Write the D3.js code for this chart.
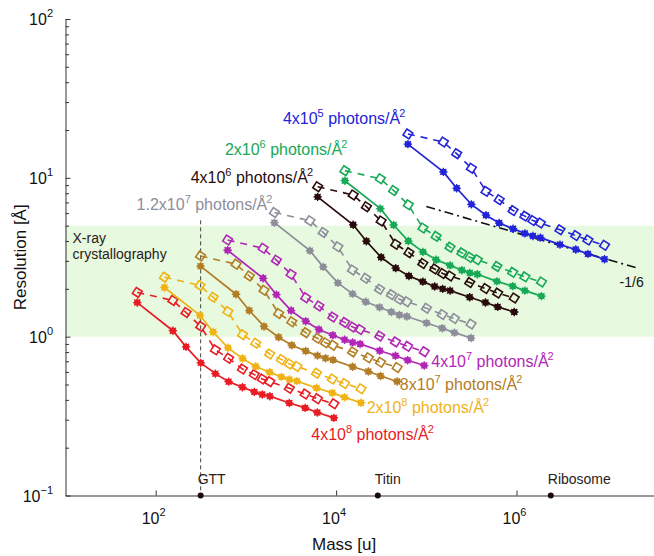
<!DOCTYPE html>
<html><head><meta charset="utf-8">
<script src="https://cdn.jsdelivr.net/npm/d3@7"></script>
<style>
body{margin:0;background:#fff}
svg{display:block;font-family:"Liberation Sans",Arial,Helvetica,sans-serif}
</style>
</head><body>
<svg id="c" width="654" height="556"></svg>
<script>
// ---------------- data ----------------
const fluxMantissa = ["4","2","4","1.2","4","8","2","4"];
const fluxExponent = ["5","6","6","7","7","7","8","8"];
const seriesColors = ["#2323d8","#17a957","#2a0b0b","#8d8d9b","#b226b6","#b27d25","#f0b315","#e81c24"];

const massBlue    = [62500,154800,217200,316100,459100,642500,916300,1239000,1520000,1840000,3033000,4538000,6193000,9463000];
const solidBlue   = [16.3,10.9,8.59,6.81,5.82,5.19,4.78,4.47,4.30,4.20,3.80,3.54,3.32,3.07];
const diamondBlue = [18.9,16.8,14.2,11.5,8.22,7.28,6.22,5.74,5.38,5.19,4.71,4.33,4.06,3.76];

const massGreen    = [12500,30960,43440,63230,91810,128500,183300,247800,304000,368000,606600,907600,1238000,1893000];
const solidGreen   = [9.59,6.40,5.05,4.00,3.42,3.05,2.81,2.62,2.52,2.47,2.23,2.08,1.95,1.80];
const diamondGreen = [11.1,9.86,8.32,6.76,4.83,4.28,3.66,3.37,3.16,3.05,2.77,2.54,2.38,2.21];

const massBlack    = [6240,15460,21680,31560,45830,64150,91480,123700,151800,183700,302800,453100,618300,944700];
const solidBlack   = [7.59,5.06,3.99,3.16,2.70,2.41,2.22,2.07,2.00,1.95,1.77,1.64,1.54,1.43];
const diamondBlack = [8.79,7.80,6.58,5.35,3.82,3.38,2.89,2.67,2.50,2.41,2.19,2.01,1.88,1.75];

const massGray    = [2070,5127,7193,10470,15200,21280,30350,41030,50340,60940,100500,150300,205100,313400];
const solidGray   = [5.22,3.48,2.75,2.18,1.86,1.66,1.53,1.43,1.37,1.34,1.22,1.13,1.06,0.98];
const diamondGray = [6.05,5.37,4.53,3.68,2.63,2.33,1.99,1.84,1.72,1.66,1.51,1.38,1.30,1.20];

const massMagenta    = [627,1553,2179,3171,4605,6446,9192,12430,15250,18460,30430,45530,62120,94930];
const solidMagenta   = [3.50,2.33,1.84,1.46,1.25,1.11,1.02,0.957,0.920,0.900,0.815,0.759,0.711,0.658];
const diamondMagenta = [4.06,3.60,3.03,2.47,1.76,1.56,1.33,1.23,1.15,1.11,1.01,0.927,0.869,0.805];

const massBrown    = [314,778,1091,1588,2306,3228,4603,6223,7636,9244,15240,22800,31110,47540];
const solidBrown   = [2.78,1.85,1.46,1.16,0.991,0.883,0.813,0.760,0.731,0.714,0.647,0.603,0.565,0.522];
const diamondBrown = [3.22,2.86,2.41,1.96,1.40,1.24,1.06,0.977,0.916,0.883,0.802,0.736,0.690,0.640];

const massOrange    = [125,310,434,632,918,1285,1833,2478,3040,3680,6070,9080,12400,18900];
const solidOrange   = [2.04,1.36,1.07,0.851,0.728,0.649,0.597,0.558,0.537,0.525,0.475,0.443,0.415,0.384];
const diamondOrange = [2.37,2.10,1.77,1.44,1.03,0.910,0.778,0.718,0.673,0.649,0.589,0.541,0.507,0.470];

const massRed    = [62.5,155,217,316,459,643,916,1240,1520,1840,3030,4540,6190,9460];
const solidRed   = [1.64,1.09,0.863,0.684,0.585,0.521,0.480,0.449,0.432,0.422,0.382,0.356,0.333,0.308];
const diamondRed = [1.90,1.69,1.42,1.16,0.826,0.731,0.625,0.577,0.541,0.521,0.473,0.435,0.407,0.378];

// label anchors (mass, resolution) for each flux label
const labelMass = [2570,585,244,61.4,113500,50900,21800,5310];
const labelRes  = [21.8,13.9,9.25,6.28,0.648,0.463,0.330,0.224];

// slope -1/6 guide line
const slopeMass = [1.0e5, 2.2e7];
const slopeRes  = [6.6, 2.7];

// reference molecules
const molNames = ["GTT","Titin","Ribosome"];
const molMass  = [315, 29000, 2.4e6];
const gttTopRes = 5.4;

// X-ray band
const bandRes = [1, 5];

// ticks
const xTickValues = [1e2, 1e4, 1e6];
const xTickExp = ["2","4","6"];
const yTickValues = [0.1, 1, 10, 100];
const yTickExp = ["\u22121","0","1","2"];

// ---------------- chart ----------------
const massArr = [massBlue,massGreen,massBlack,massGray,massMagenta,massBrown,massOrange,massRed];
const solidArr = [solidBlue,solidGreen,solidBlack,solidGray,solidMagenta,solidBrown,solidOrange,solidRed];
const diamArr = [diamondBlue,diamondGreen,diamondBlack,diamondGray,diamondMagenta,diamondBrown,diamondOrange,diamondRed];

const svg = d3.select("#c");
const W = 654, H = 556;
const x = d3.scaleLog().domain([10, 1e8]).range([65.5, 65.5 + 7*90.2]);
const y = d3.scaleLog().domain([0.1, 100]).range([495.5, 19]);

svg.append("defs").append("clipPath").attr("id","clip")
  .append("rect").attr("x",65.5).attr("y",0).attr("width",W-65.5).attr("height",496);

// band
svg.append("rect")
  .attr("x", x(10)).attr("y", y(bandRes[1]))
  .attr("width", W - x(10)).attr("height", y(bandRes[0]) - y(bandRes[1]))
  .attr("fill", "#e7f9df");

svg.append("text").attr("x", 72.5).attr("y", 243).attr("font-size", 14).attr("fill","#2a1a1a").text("X-ray");
svg.append("text").attr("x", 72.5).attr("y", 258.5).attr("font-size", 14).attr("fill","#2a1a1a").text("crystallography");

// GTT vertical dashed line
svg.append("line")
  .attr("x1", x(molMass[0])).attr("x2", x(molMass[0]))
  .attr("y1", y(gttTopRes)).attr("y2", y(0.1))
  .attr("stroke", "#444").attr("stroke-width", 1).attr("stroke-dasharray", "4,3");

const g = svg.append("g").attr("clip-path","url(#clip)");
const line = d3.line().x(d => x(d[0])).y(d => y(d[1]));

// slope guide
g.append("path")
  .attr("d", line(slopeMass.map((m,i)=>[m, slopeRes[i]])))
  .attr("fill","none").attr("stroke","#111").attr("stroke-width",1.6)
  .attr("stroke-dasharray","9,4,2,4");

const diamondPath = "M0,-5L5,0L0,5L-5,0Z";
const starPath = "M-4.2,0L4.2,0M0,-4.2L0,4.2M-3,-3L3,3M-3,3L3,-3";

// draw series (red first, blue last on top)
for (let k = massArr.length - 1; k >= 0; k--) {
  const col = seriesColors[k];
  const solid = massArr[k].map((m,i)=>[m, solidArr[k][i]]);
  const diam = massArr[k].map((m,i)=>[m, diamArr[k][i]]);
  const sg = g.append("g");
  sg.append("path").attr("d", line(diam)).attr("fill","none")
    .attr("stroke", col).attr("stroke-width", 1.6).attr("stroke-dasharray","7,6");
  sg.selectAll(".dm").data(diam).join("path")
    .attr("transform", d => `translate(${x(d[0])},${y(d[1])}) rotate(-12)`)
    .attr("d", diamondPath).attr("fill","none").attr("stroke", col).attr("stroke-width", 1.6);
  sg.append("path").attr("d", line(solid)).attr("fill","none")
    .attr("stroke", col).attr("stroke-width", 1.7);
  sg.selectAll(".sd").data(solid).join("circle")
    .attr("cx", d => x(d[0])).attr("cy", d => y(d[1])).attr("r", 3.2).attr("fill", col);
  sg.selectAll(".st").data(solid).join("path")
    .attr("transform", d => `translate(${x(d[0])},${y(d[1])})`)
    .attr("d", starPath).attr("stroke", col).attr("stroke-width", 1.3).attr("fill","none");
}

// slope label
svg.append("text").attr("x", x(slopeMass[1]) - 18).attr("y", y(slopeRes[1]) + 19)
  .attr("font-size", 14).attr("fill","#111").text("-1/6");

// flux labels
for (let k = 0; k < fluxMantissa.length; k++) {
  const t = svg.append("text").attr("x", x(labelMass[k])).attr("y", y(labelRes[k]))
    .attr("font-size", 16).attr("fill", seriesColors[k]);
  t.append("tspan").text(fluxMantissa[k] + "x10");
  t.append("tspan").attr("dy", -7).attr("font-size", 11).text(fluxExponent[k]);
  t.append("tspan").attr("dy", 7).text(" photons/\u00C5");
  t.append("tspan").attr("dy", -7).attr("font-size", 11).attr("dx", -1).text("2");
}

// axes
const minorY = [];
for (let e = -1; e < 2; e++) for (let m = 2; m <= 9; m++) minorY.push(m * Math.pow(10, e));

const yAxis = svg.append("g").attr("transform", `translate(${x(10)},0)`)
  .call(d3.axisLeft(y).tickValues(yTickValues).tickSizeInner(-5).tickSizeOuter(0).tickFormat(""));
svg.append("g").attr("transform", `translate(${x(10)},0)`)
  .call(d3.axisLeft(y).tickValues(minorY).tickSizeInner(-3.5).tickSizeOuter(0).tickFormat(""))
  .select(".domain").remove();

const xAxis = svg.append("g").attr("transform", `translate(0,${y(0.1)})`)
  .call(d3.axisBottom(x).tickValues(xTickValues).tickSizeInner(-5).tickSizeOuter(0).tickFormat(""));

svg.selectAll(".domain").attr("stroke","#333").attr("stroke-width",1);
svg.selectAll(".tick line").attr("stroke","#333").attr("stroke-width",1);

// y tick labels
yTickValues.forEach((v,i) => {
  const t = svg.append("text").attr("x", 53).attr("y", y(v) + 6).attr("text-anchor","end")
    .attr("font-size", 16).attr("fill","#111");
  t.append("tspan").text("10");
  t.append("tspan").attr("dy", -8).attr("font-size", 11).text(yTickExp[i]);
});
// x tick labels
xTickValues.forEach((v,i) => {
  const t = svg.append("text").attr("x", x(v) - 14).attr("y", y(0.1) + 28)
    .attr("font-size", 16).attr("fill","#111");
  t.append("tspan").text("10");
  t.append("tspan").attr("dy", -8).attr("font-size", 11).text(xTickExp[i]);
});

// axis titles
svg.append("text").attr("x", x(1e4) + 8).attr("y", 550).attr("text-anchor","middle")
  .attr("font-size", 17).attr("fill","#111").text("Mass [u]");
svg.append("text").attr("transform", `translate(26,${(y(100)+y(0.1))/2}) rotate(-90)`)
  .attr("text-anchor","middle").attr("font-size", 17).attr("fill","#111").text("Resolution [\u00C5]");

// molecules on the axis
molNames.forEach((n,i) => {
  svg.append("circle").attr("cx", x(molMass[i])).attr("cy", y(0.1)).attr("r", 3).attr("fill","#1a0a0a");
  svg.append("text").attr("x", x(molMass[i]) - 3).attr("y", y(0.1) - 12)
    .attr("font-size", 14).attr("fill","#2a1a1a").text(n);
});
</script>
</body></html>
